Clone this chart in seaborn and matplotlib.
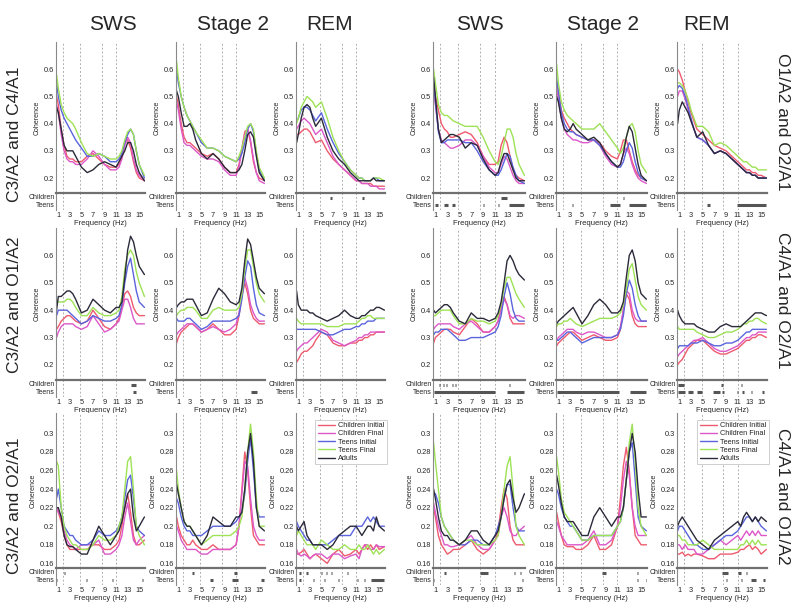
# Sleep EEG coherence by stage - children, teens and adults (3 x 6 panel figure)

import pandas as pd
import matplotlib
matplotlib.use('Agg')
import matplotlib.pyplot as plt
from matplotlib.lines import Line2D
import seaborn as sns

sns.set_style('white')
plt.rcParams['font.family'] = ['Liberation Sans', 'DejaVu Sans']

# Frequency grid (Hz) shared by every curve
freq = [0.7, 1, 1.5, 2, 2.5, 3, 3.5, 4, 5, 6, 7, 8, 9, 10, 11, 11.5, 12, 12.5, 13, 13.5, 14, 14.5, 15, 15.9]

groups = ['Children Initial', 'Children Final', 'Teens Initial', 'Teens Final', 'Adults']
colors = ['#ee5a6e', '#dc58c8', '#5a64dc', '#9ee255', '#2a2a3a']

stages = ['SWS', 'Stage 2', 'REM']
left_pairs = ['C3/A2 and C4/A1', 'C3/A2 and O1/A2', 'C3/A2 and O2/A1']
right_pairs = ['O1/A2 and O2/A1', 'C4/A1 and O2/A1', 'C4/A1 and O1/A2']

# Coherence curves, one row per group (order as in groups)
c3c4_sws = [
    [0.50, 0.47, 0.38, 0.32, 0.28, 0.27, 0.27, 0.26, 0.26, 0.28, 0.29, 0.27, 0.25, 0.24, 0.24, 0.25, 0.28, 0.33, 0.34, 0.31, 0.26, 0.22, 0.20, 0.19],
    [0.47, 0.44, 0.36, 0.30, 0.27, 0.26, 0.26, 0.25, 0.25, 0.27, 0.30, 0.28, 0.25, 0.23, 0.23, 0.24, 0.27, 0.32, 0.35, 0.33, 0.27, 0.23, 0.21, 0.19],
    [0.55, 0.50, 0.45, 0.42, 0.40, 0.38, 0.36, 0.34, 0.31, 0.28, 0.28, 0.29, 0.28, 0.26, 0.26, 0.27, 0.29, 0.33, 0.36, 0.38, 0.36, 0.30, 0.25, 0.20],
    [0.58, 0.53, 0.47, 0.44, 0.42, 0.41, 0.40, 0.38, 0.33, 0.29, 0.28, 0.29, 0.28, 0.27, 0.27, 0.28, 0.30, 0.34, 0.37, 0.38, 0.36, 0.30, 0.25, 0.21],
    [0.46, 0.44, 0.38, 0.32, 0.30, 0.30, 0.30, 0.28, 0.24, 0.22, 0.23, 0.25, 0.26, 0.25, 0.24, 0.26, 0.28, 0.30, 0.33, 0.33, 0.30, 0.25, 0.22, 0.19],
]
c3c4_st2 = [
    [0.50, 0.47, 0.40, 0.35, 0.33, 0.33, 0.32, 0.31, 0.29, 0.28, 0.29, 0.27, 0.24, 0.22, 0.22, 0.25, 0.31, 0.37, 0.38, 0.33, 0.26, 0.22, 0.20, 0.19],
    [0.48, 0.45, 0.38, 0.33, 0.32, 0.32, 0.31, 0.30, 0.28, 0.27, 0.27, 0.26, 0.23, 0.21, 0.21, 0.24, 0.30, 0.36, 0.38, 0.34, 0.27, 0.22, 0.19, 0.18],
    [0.60, 0.55, 0.50, 0.46, 0.43, 0.41, 0.39, 0.37, 0.33, 0.31, 0.31, 0.30, 0.28, 0.27, 0.26, 0.27, 0.29, 0.33, 0.38, 0.40, 0.37, 0.29, 0.23, 0.19],
    [0.63, 0.57, 0.50, 0.46, 0.43, 0.41, 0.39, 0.37, 0.34, 0.31, 0.31, 0.30, 0.28, 0.27, 0.26, 0.28, 0.31, 0.35, 0.39, 0.40, 0.38, 0.30, 0.24, 0.20],
    [0.52, 0.50, 0.44, 0.39, 0.39, 0.40, 0.38, 0.34, 0.29, 0.27, 0.29, 0.27, 0.24, 0.22, 0.22, 0.23, 0.25, 0.30, 0.36, 0.37, 0.35, 0.28, 0.22, 0.19],
]
c3c4_rem = [
    [0.36, 0.36, 0.37, 0.38, 0.38, 0.37, 0.35, 0.33, 0.34, 0.30, 0.27, 0.25, 0.23, 0.21, 0.19, 0.19, 0.18, 0.18, 0.18, 0.18, 0.17, 0.17, 0.17, 0.17],
    [0.38, 0.39, 0.41, 0.42, 0.41, 0.40, 0.38, 0.36, 0.38, 0.33, 0.28, 0.25, 0.23, 0.21, 0.19, 0.19, 0.18, 0.18, 0.18, 0.17, 0.17, 0.17, 0.16, 0.16],
    [0.41, 0.42, 0.45, 0.46, 0.46, 0.45, 0.43, 0.41, 0.44, 0.38, 0.33, 0.29, 0.26, 0.23, 0.21, 0.20, 0.20, 0.19, 0.19, 0.19, 0.20, 0.20, 0.19, 0.19],
    [0.40, 0.42, 0.46, 0.48, 0.50, 0.49, 0.48, 0.46, 0.48, 0.42, 0.35, 0.30, 0.26, 0.23, 0.21, 0.20, 0.20, 0.19, 0.19, 0.19, 0.20, 0.20, 0.20, 0.19],
    [0.33, 0.36, 0.42, 0.46, 0.47, 0.46, 0.42, 0.39, 0.42, 0.35, 0.30, 0.27, 0.25, 0.22, 0.20, 0.19, 0.19, 0.19, 0.19, 0.19, 0.20, 0.19, 0.19, 0.19],
]
o1o2_sws = [
    [0.55, 0.50, 0.45, 0.40, 0.38, 0.37, 0.35, 0.35, 0.36, 0.37, 0.36, 0.33, 0.28, 0.25, 0.25, 0.26, 0.32, 0.35, 0.33, 0.28, 0.23, 0.21, 0.20, 0.19],
    [0.52, 0.47, 0.38, 0.34, 0.33, 0.32, 0.31, 0.31, 0.32, 0.34, 0.34, 0.32, 0.28, 0.24, 0.22, 0.22, 0.25, 0.28, 0.27, 0.24, 0.21, 0.19, 0.18, 0.18],
    [0.55, 0.48, 0.37, 0.33, 0.33, 0.34, 0.34, 0.34, 0.34, 0.33, 0.33, 0.30, 0.26, 0.23, 0.21, 0.21, 0.23, 0.26, 0.29, 0.28, 0.24, 0.21, 0.19, 0.18],
    [0.60, 0.55, 0.47, 0.44, 0.43, 0.43, 0.42, 0.41, 0.40, 0.39, 0.39, 0.39, 0.35, 0.30, 0.26, 0.25, 0.28, 0.33, 0.38, 0.38, 0.35, 0.29, 0.25, 0.21],
    [0.57, 0.50, 0.38, 0.33, 0.34, 0.35, 0.36, 0.36, 0.35, 0.31, 0.33, 0.32, 0.27, 0.23, 0.21, 0.22, 0.26, 0.29, 0.29, 0.26, 0.23, 0.20, 0.19, 0.19],
]
o1o2_st2 = [
    [0.55, 0.52, 0.45, 0.42, 0.40, 0.38, 0.37, 0.36, 0.35, 0.34, 0.34, 0.33, 0.30, 0.28, 0.27, 0.30, 0.34, 0.34, 0.30, 0.26, 0.23, 0.21, 0.20, 0.19],
    [0.53, 0.49, 0.42, 0.38, 0.36, 0.35, 0.34, 0.34, 0.33, 0.33, 0.34, 0.32, 0.28, 0.25, 0.24, 0.25, 0.29, 0.31, 0.29, 0.25, 0.22, 0.20, 0.19, 0.18],
    [0.57, 0.52, 0.44, 0.40, 0.38, 0.37, 0.37, 0.36, 0.35, 0.34, 0.34, 0.32, 0.29, 0.26, 0.24, 0.24, 0.26, 0.30, 0.33, 0.31, 0.26, 0.22, 0.20, 0.19],
    [0.62, 0.55, 0.48, 0.45, 0.43, 0.42, 0.41, 0.40, 0.38, 0.38, 0.38, 0.40, 0.37, 0.34, 0.31, 0.29, 0.31, 0.35, 0.39, 0.40, 0.37, 0.30, 0.25, 0.22],
    [0.50, 0.48, 0.42, 0.38, 0.37, 0.38, 0.40, 0.38, 0.36, 0.34, 0.35, 0.33, 0.29, 0.26, 0.24, 0.25, 0.29, 0.35, 0.39, 0.37, 0.31, 0.25, 0.21, 0.19],
]
o1o2_rem = [
    [0.60, 0.59, 0.56, 0.52, 0.48, 0.44, 0.41, 0.38, 0.36, 0.34, 0.32, 0.31, 0.30, 0.28, 0.26, 0.25, 0.24, 0.23, 0.23, 0.22, 0.22, 0.21, 0.21, 0.20],
    [0.50, 0.52, 0.52, 0.49, 0.45, 0.41, 0.38, 0.35, 0.34, 0.32, 0.29, 0.30, 0.29, 0.27, 0.25, 0.24, 0.23, 0.22, 0.22, 0.21, 0.21, 0.20, 0.20, 0.20],
    [0.53, 0.54, 0.53, 0.50, 0.46, 0.42, 0.38, 0.35, 0.34, 0.32, 0.29, 0.30, 0.29, 0.27, 0.25, 0.24, 0.23, 0.22, 0.22, 0.21, 0.21, 0.20, 0.20, 0.20],
    [0.55, 0.55, 0.54, 0.52, 0.49, 0.45, 0.42, 0.39, 0.39, 0.37, 0.32, 0.33, 0.32, 0.30, 0.28, 0.27, 0.26, 0.26, 0.25, 0.24, 0.24, 0.23, 0.23, 0.23],
    [0.40, 0.45, 0.48, 0.46, 0.44, 0.41, 0.38, 0.35, 0.37, 0.32, 0.29, 0.30, 0.29, 0.27, 0.25, 0.24, 0.23, 0.22, 0.22, 0.21, 0.21, 0.20, 0.20, 0.20],
]
c3o1_sws = [
    [0.33, 0.34, 0.36, 0.37, 0.38, 0.38, 0.37, 0.36, 0.35, 0.36, 0.40, 0.37, 0.34, 0.33, 0.35, 0.37, 0.41, 0.46, 0.47, 0.45, 0.41, 0.39, 0.38, 0.38],
    [0.30, 0.32, 0.34, 0.35, 0.35, 0.35, 0.35, 0.34, 0.33, 0.34, 0.38, 0.35, 0.32, 0.33, 0.35, 0.36, 0.40, 0.44, 0.44, 0.41, 0.37, 0.35, 0.35, 0.35],
    [0.38, 0.40, 0.40, 0.40, 0.40, 0.39, 0.38, 0.37, 0.35, 0.36, 0.38, 0.37, 0.36, 0.36, 0.37, 0.38, 0.42, 0.50, 0.56, 0.59, 0.53, 0.47, 0.43, 0.41],
    [0.44, 0.43, 0.43, 0.43, 0.44, 0.44, 0.43, 0.41, 0.38, 0.38, 0.41, 0.39, 0.38, 0.38, 0.39, 0.40, 0.45, 0.55, 0.60, 0.62, 0.60, 0.54, 0.50, 0.45],
    [0.40, 0.45, 0.45, 0.46, 0.47, 0.47, 0.46, 0.44, 0.39, 0.40, 0.44, 0.42, 0.40, 0.39, 0.41, 0.41, 0.43, 0.52, 0.62, 0.67, 0.65, 0.60, 0.56, 0.53],
]
c3o1_st2 = [
    [0.28, 0.30, 0.32, 0.33, 0.34, 0.35, 0.35, 0.34, 0.32, 0.33, 0.35, 0.33, 0.31, 0.31, 0.33, 0.38, 0.45, 0.50, 0.46, 0.40, 0.37, 0.36, 0.35, 0.35],
    [0.31, 0.32, 0.33, 0.34, 0.35, 0.35, 0.35, 0.34, 0.32, 0.33, 0.34, 0.33, 0.32, 0.33, 0.35, 0.39, 0.46, 0.52, 0.48, 0.42, 0.39, 0.37, 0.36, 0.36],
    [0.37, 0.36, 0.36, 0.36, 0.37, 0.37, 0.36, 0.35, 0.33, 0.34, 0.36, 0.36, 0.36, 0.36, 0.37, 0.38, 0.44, 0.52, 0.58, 0.56, 0.48, 0.42, 0.39, 0.38],
    [0.38, 0.39, 0.40, 0.40, 0.41, 0.41, 0.41, 0.40, 0.37, 0.37, 0.40, 0.41, 0.40, 0.40, 0.40, 0.41, 0.46, 0.55, 0.62, 0.62, 0.56, 0.50, 0.46, 0.43],
    [0.41, 0.42, 0.43, 0.43, 0.44, 0.44, 0.44, 0.42, 0.38, 0.39, 0.44, 0.48, 0.46, 0.43, 0.42, 0.43, 0.48, 0.58, 0.66, 0.64, 0.58, 0.52, 0.48, 0.46],
]
c3o1_rem = [
    [0.21, 0.22, 0.24, 0.25, 0.25, 0.26, 0.27, 0.29, 0.32, 0.31, 0.28, 0.27, 0.27, 0.28, 0.28, 0.29, 0.29, 0.30, 0.30, 0.31, 0.31, 0.32, 0.32, 0.32],
    [0.25, 0.26, 0.27, 0.28, 0.28, 0.29, 0.30, 0.31, 0.33, 0.32, 0.29, 0.28, 0.27, 0.28, 0.29, 0.30, 0.30, 0.31, 0.31, 0.32, 0.32, 0.32, 0.32, 0.32],
    [0.33, 0.33, 0.33, 0.33, 0.33, 0.33, 0.33, 0.33, 0.32, 0.31, 0.31, 0.32, 0.33, 0.33, 0.34, 0.34, 0.35, 0.35, 0.36, 0.36, 0.36, 0.37, 0.37, 0.37],
    [0.37, 0.36, 0.35, 0.35, 0.35, 0.35, 0.35, 0.35, 0.35, 0.34, 0.34, 0.34, 0.35, 0.35, 0.35, 0.36, 0.37, 0.37, 0.38, 0.38, 0.37, 0.37, 0.37, 0.37],
    [0.47, 0.42, 0.40, 0.40, 0.40, 0.39, 0.39, 0.38, 0.37, 0.36, 0.37, 0.38, 0.40, 0.38, 0.37, 0.37, 0.38, 0.38, 0.39, 0.40, 0.40, 0.41, 0.41, 0.40],
]
c4o2_sws = [
    [0.28, 0.30, 0.31, 0.32, 0.33, 0.33, 0.33, 0.32, 0.31, 0.34, 0.37, 0.35, 0.32, 0.32, 0.34, 0.36, 0.41, 0.45, 0.42, 0.37, 0.35, 0.35, 0.35, 0.35],
    [0.33, 0.34, 0.35, 0.35, 0.35, 0.35, 0.35, 0.34, 0.33, 0.35, 0.36, 0.34, 0.32, 0.32, 0.34, 0.36, 0.40, 0.44, 0.42, 0.38, 0.37, 0.38, 0.38, 0.37],
    [0.31, 0.32, 0.32, 0.33, 0.33, 0.33, 0.32, 0.31, 0.29, 0.29, 0.30, 0.30, 0.30, 0.31, 0.32, 0.34, 0.38, 0.45, 0.50, 0.46, 0.40, 0.37, 0.36, 0.36],
    [0.38, 0.38, 0.39, 0.40, 0.40, 0.40, 0.40, 0.38, 0.35, 0.35, 0.37, 0.36, 0.36, 0.35, 0.36, 0.38, 0.42, 0.48, 0.52, 0.52, 0.49, 0.46, 0.44, 0.41],
    [0.40, 0.39, 0.40, 0.41, 0.42, 0.42, 0.41, 0.39, 0.36, 0.35, 0.39, 0.37, 0.37, 0.36, 0.37, 0.39, 0.43, 0.50, 0.58, 0.60, 0.58, 0.55, 0.53, 0.51],
]
c4o2_st2 = [
    [0.27, 0.28, 0.29, 0.30, 0.31, 0.32, 0.32, 0.31, 0.29, 0.30, 0.31, 0.30, 0.29, 0.29, 0.30, 0.33, 0.40, 0.46, 0.44, 0.38, 0.35, 0.34, 0.34, 0.34],
    [0.29, 0.30, 0.31, 0.32, 0.33, 0.33, 0.33, 0.32, 0.31, 0.32, 0.32, 0.31, 0.30, 0.30, 0.31, 0.34, 0.40, 0.47, 0.46, 0.40, 0.37, 0.36, 0.36, 0.36],
    [0.29, 0.29, 0.30, 0.31, 0.32, 0.32, 0.31, 0.30, 0.28, 0.29, 0.30, 0.30, 0.30, 0.30, 0.31, 0.33, 0.38, 0.46, 0.51, 0.48, 0.42, 0.38, 0.36, 0.36],
    [0.34, 0.35, 0.35, 0.36, 0.36, 0.37, 0.36, 0.35, 0.34, 0.35, 0.36, 0.37, 0.37, 0.37, 0.38, 0.39, 0.42, 0.48, 0.55, 0.57, 0.51, 0.45, 0.42, 0.40],
    [0.35, 0.36, 0.37, 0.38, 0.39, 0.40, 0.41, 0.39, 0.35, 0.38, 0.42, 0.44, 0.42, 0.39, 0.39, 0.40, 0.43, 0.52, 0.60, 0.62, 0.58, 0.50, 0.46, 0.44],
]
c4o2_rem = [
    [0.20, 0.21, 0.22, 0.24, 0.26, 0.27, 0.28, 0.29, 0.29, 0.27, 0.25, 0.24, 0.24, 0.25, 0.26, 0.27, 0.28, 0.29, 0.29, 0.30, 0.30, 0.31, 0.31, 0.30],
    [0.23, 0.24, 0.25, 0.26, 0.27, 0.28, 0.29, 0.29, 0.30, 0.28, 0.26, 0.25, 0.25, 0.26, 0.27, 0.28, 0.29, 0.30, 0.30, 0.31, 0.31, 0.32, 0.32, 0.32],
    [0.26, 0.27, 0.27, 0.27, 0.27, 0.28, 0.28, 0.28, 0.29, 0.28, 0.27, 0.27, 0.28, 0.28, 0.29, 0.30, 0.31, 0.32, 0.32, 0.33, 0.33, 0.33, 0.33, 0.33],
    [0.34, 0.33, 0.33, 0.33, 0.33, 0.33, 0.33, 0.32, 0.31, 0.30, 0.30, 0.31, 0.32, 0.32, 0.33, 0.34, 0.35, 0.35, 0.36, 0.36, 0.37, 0.37, 0.36, 0.35],
    [0.40, 0.38, 0.36, 0.35, 0.35, 0.35, 0.35, 0.34, 0.33, 0.32, 0.32, 0.34, 0.35, 0.34, 0.34, 0.34, 0.35, 0.36, 0.37, 0.38, 0.39, 0.39, 0.39, 0.38],
]
c3o2_sws = [
    [0.220, 0.215, 0.205, 0.190, 0.180, 0.175, 0.175, 0.175, 0.175, 0.175, 0.180, 0.180, 0.175, 0.175, 0.180, 0.185, 0.200, 0.220, 0.235, 0.215, 0.190, 0.180, 0.180, 0.185],
    [0.220, 0.215, 0.210, 0.195, 0.185, 0.180, 0.178, 0.175, 0.180, 0.180, 0.180, 0.185, 0.170, 0.170, 0.175, 0.180, 0.190, 0.210, 0.225, 0.205, 0.185, 0.180, 0.185, 0.190],
    [0.230, 0.240, 0.220, 0.200, 0.195, 0.190, 0.190, 0.185, 0.180, 0.180, 0.185, 0.195, 0.190, 0.190, 0.195, 0.200, 0.210, 0.230, 0.250, 0.255, 0.230, 0.200, 0.195, 0.190],
    [0.270, 0.265, 0.220, 0.200, 0.190, 0.185, 0.180, 0.180, 0.175, 0.175, 0.180, 0.190, 0.185, 0.185, 0.190, 0.200, 0.210, 0.240, 0.270, 0.275, 0.240, 0.200, 0.190, 0.180],
    [0.220, 0.220, 0.210, 0.190, 0.180, 0.178, 0.178, 0.175, 0.170, 0.170, 0.185, 0.200, 0.190, 0.180, 0.190, 0.195, 0.205, 0.220, 0.235, 0.240, 0.210, 0.195, 0.200, 0.210],
]
c3o2_st2 = [
    [0.210, 0.200, 0.190, 0.185, 0.180, 0.180, 0.185, 0.180, 0.175, 0.175, 0.180, 0.175, 0.175, 0.175, 0.180, 0.200, 0.240, 0.280, 0.260, 0.220, 0.190, 0.185, 0.180, 0.180],
    [0.200, 0.195, 0.185, 0.180, 0.175, 0.175, 0.175, 0.175, 0.170, 0.170, 0.175, 0.175, 0.175, 0.175, 0.180, 0.200, 0.235, 0.270, 0.265, 0.230, 0.200, 0.190, 0.185, 0.185],
    [0.230, 0.225, 0.210, 0.200, 0.195, 0.195, 0.190, 0.190, 0.190, 0.195, 0.200, 0.200, 0.200, 0.200, 0.205, 0.210, 0.215, 0.235, 0.270, 0.295, 0.260, 0.220, 0.210, 0.210],
    [0.260, 0.240, 0.220, 0.205, 0.200, 0.200, 0.195, 0.190, 0.180, 0.185, 0.190, 0.190, 0.190, 0.190, 0.195, 0.200, 0.210, 0.240, 0.280, 0.310, 0.280, 0.230, 0.200, 0.200],
    [0.245, 0.235, 0.220, 0.205, 0.200, 0.200, 0.195, 0.190, 0.180, 0.190, 0.210, 0.205, 0.200, 0.200, 0.210, 0.210, 0.215, 0.240, 0.280, 0.300, 0.270, 0.220, 0.200, 0.195],
]
c3o2_rem = [
    [0.170, 0.170, 0.172, 0.175, 0.170, 0.165, 0.168, 0.170, 0.165, 0.160, 0.170, 0.175, 0.168, 0.170, 0.175, 0.170, 0.175, 0.180, 0.175, 0.180, 0.175, 0.180, 0.175, 0.178],
    [0.175, 0.170, 0.168, 0.170, 0.168, 0.165, 0.168, 0.170, 0.170, 0.165, 0.170, 0.170, 0.165, 0.168, 0.170, 0.165, 0.175, 0.180, 0.180, 0.175, 0.175, 0.180, 0.178, 0.178],
    [0.205, 0.200, 0.195, 0.190, 0.185, 0.185, 0.180, 0.180, 0.180, 0.180, 0.185, 0.190, 0.190, 0.190, 0.200, 0.200, 0.200, 0.205, 0.210, 0.205, 0.210, 0.205, 0.200, 0.200],
    [0.190, 0.195, 0.190, 0.185, 0.180, 0.180, 0.180, 0.175, 0.185, 0.180, 0.175, 0.175, 0.180, 0.175, 0.175, 0.180, 0.175, 0.175, 0.180, 0.175, 0.170, 0.175, 0.170, 0.175],
    [0.200, 0.195, 0.200, 0.205, 0.190, 0.185, 0.180, 0.180, 0.180, 0.175, 0.180, 0.190, 0.195, 0.200, 0.200, 0.195, 0.190, 0.195, 0.200, 0.200, 0.195, 0.210, 0.200, 0.195],
]
c4o1_sws = [
    [0.220, 0.210, 0.190, 0.180, 0.175, 0.170, 0.172, 0.175, 0.175, 0.180, 0.185, 0.175, 0.170, 0.175, 0.185, 0.195, 0.220, 0.240, 0.230, 0.200, 0.185, 0.180, 0.180, 0.180],
    [0.225, 0.215, 0.200, 0.190, 0.180, 0.180, 0.178, 0.178, 0.180, 0.185, 0.190, 0.180, 0.175, 0.175, 0.185, 0.190, 0.210, 0.220, 0.210, 0.195, 0.190, 0.190, 0.195, 0.200],
    [0.235, 0.235, 0.225, 0.210, 0.200, 0.195, 0.190, 0.185, 0.180, 0.180, 0.185, 0.185, 0.180, 0.180, 0.190, 0.200, 0.210, 0.230, 0.245, 0.245, 0.220, 0.200, 0.195, 0.195],
    [0.290, 0.270, 0.240, 0.210, 0.200, 0.195, 0.190, 0.185, 0.180, 0.185, 0.185, 0.180, 0.180, 0.180, 0.185, 0.190, 0.210, 0.240, 0.265, 0.275, 0.240, 0.200, 0.190, 0.180],
    [0.240, 0.230, 0.210, 0.195, 0.190, 0.190, 0.185, 0.185, 0.180, 0.185, 0.195, 0.195, 0.185, 0.180, 0.190, 0.195, 0.210, 0.230, 0.245, 0.250, 0.230, 0.215, 0.220, 0.235],
]
c4o1_st2 = [
    [0.215, 0.205, 0.190, 0.180, 0.178, 0.178, 0.178, 0.175, 0.175, 0.180, 0.190, 0.175, 0.175, 0.180, 0.200, 0.230, 0.265, 0.285, 0.260, 0.220, 0.190, 0.185, 0.180, 0.180],
    [0.205, 0.200, 0.190, 0.185, 0.180, 0.180, 0.180, 0.180, 0.180, 0.185, 0.195, 0.180, 0.180, 0.185, 0.200, 0.220, 0.250, 0.270, 0.255, 0.220, 0.200, 0.190, 0.190, 0.190],
    [0.240, 0.235, 0.220, 0.210, 0.205, 0.200, 0.200, 0.195, 0.185, 0.185, 0.190, 0.190, 0.190, 0.190, 0.200, 0.205, 0.220, 0.250, 0.280, 0.290, 0.250, 0.210, 0.200, 0.195],
    [0.275, 0.260, 0.230, 0.215, 0.210, 0.205, 0.200, 0.195, 0.185, 0.185, 0.190, 0.190, 0.190, 0.190, 0.200, 0.205, 0.220, 0.250, 0.290, 0.310, 0.270, 0.220, 0.200, 0.190],
    [0.255, 0.245, 0.225, 0.210, 0.205, 0.205, 0.205, 0.200, 0.190, 0.190, 0.210, 0.220, 0.210, 0.200, 0.210, 0.210, 0.220, 0.250, 0.280, 0.300, 0.280, 0.240, 0.210, 0.210],
]
c4o1_rem = [
    [0.170, 0.170, 0.172, 0.168, 0.170, 0.168, 0.170, 0.170, 0.168, 0.165, 0.165, 0.170, 0.170, 0.170, 0.172, 0.175, 0.175, 0.178, 0.180, 0.175, 0.178, 0.175, 0.170, 0.175],
    [0.180, 0.180, 0.175, 0.180, 0.175, 0.175, 0.175, 0.170, 0.170, 0.175, 0.180, 0.185, 0.180, 0.185, 0.190, 0.185, 0.190, 0.195, 0.190, 0.195, 0.190, 0.195, 0.190, 0.190],
    [0.195, 0.200, 0.200, 0.195, 0.190, 0.185, 0.180, 0.180, 0.175, 0.175, 0.180, 0.185, 0.190, 0.190, 0.195, 0.200, 0.205, 0.210, 0.210, 0.205, 0.210, 0.205, 0.200, 0.195],
    [0.190, 0.190, 0.185, 0.185, 0.180, 0.180, 0.180, 0.180, 0.185, 0.180, 0.175, 0.175, 0.175, 0.175, 0.175, 0.180, 0.180, 0.185, 0.180, 0.185, 0.180, 0.185, 0.180, 0.180],
    [0.200, 0.205, 0.210, 0.205, 0.200, 0.195, 0.190, 0.185, 0.180, 0.175, 0.185, 0.190, 0.195, 0.200, 0.205, 0.200, 0.210, 0.215, 0.210, 0.205, 0.210, 0.205, 0.210, 0.205],
]

# Significant frequency ranges (Hz): (children, teens)
c3c4_sws_sig = ([], [])
c3c4_st2_sig = ([], [])
c3c4_rem_sig = ([(6.5, 6.8), (12.0, 12.4)], [])
o1o2_sws_sig = ([(11.9, 13.0)], [(0.9, 1.5), (2.5, 3.1), (3.8, 4.3), (9.0, 9.2), (11.5, 11.7), (13.3, 15.8)])
o1o2_st2_sig = ([(11.9, 12.1)], [(3.3, 3.5), (9.8, 11.4), (13.0, 15.8)])
o1o2_rem_sig = ([], [(5.7, 6.3), (10.8, 15.9)])
c3o1_sws_sig = ([(13.6, 14.4)], [(13.9, 14.5)])
c3o1_st2_sig = ([], [(13.6, 14.7)])
c3o1_rem_sig = ([], [])
c4o2_sws_sig = ([(1.6, 1.8), (2.2, 2.4), (2.7, 2.9), (3.8, 4.0), (4.3, 4.5), (13.3, 13.5)], [(0.7, 11.0), (13.0, 15.8)])
c4o2_st2_sig = ([], [(0.7, 11.3), (13.2, 15.8)])
c4o2_rem_sig = ([(0.7, 1.8), (8.2, 8.4), (11.5, 11.7)],
                [(0.7, 2.0), (2.5, 3.3), (4.0, 4.8), (6.7, 8.0), (8.3, 8.7), (10.8, 11.1), (11.8, 12.1), (13.2, 13.5), (15.1, 15.5)])
c3o2_sws_sig = ([(2.0, 2.2)], [(0.6, 0.8), (5.8, 6.0), (10.3, 10.5), (15.5, 15.7)])
c3o2_st2_sig = ([(3.3, 3.8), (10.6, 11.2)], [(6.4, 7.0), (10.3, 11.4), (15.3, 15.9)])
c3o2_rem_sig = ([(1.2, 1.4), (2.4, 2.6), (4.9, 5.1), (5.8, 6.0), (6.6, 6.8), (9.4, 9.6)],
                [(1.2, 1.4), (3.5, 3.7), (5.5, 5.7), (7.9, 8.1), (11.1, 11.3), (12.3, 12.5), (13.5, 15.9)])
c4o1_sws_sig = ([(2.5, 2.7), (8.4, 9.8), (14.1, 14.3), (15.2, 15.4)], [(0.6, 0.8), (15.5, 15.7)])
c4o1_st2_sig = ([(8.3, 9.1), (14.3, 14.5)], [(14.3, 14.5), (15.8, 16.0)])
c4o1_rem_sig = ([(8.3, 9.4), (11.0, 11.6), (12.4, 12.6)], [(9.0, 9.2), (11.5, 11.7), (13.3, 14.1), (15.4, 15.6)])

band_edges = [1.8, 4.8, 8.5, 11.0]
freq_ticks = [1, 3, 5, 7, 9, 11, 13, 15]

rows = [
    [(c3c4_sws, c3c4_sws_sig), (c3c4_st2, c3c4_st2_sig), (c3c4_rem, c3c4_rem_sig),
     (o1o2_sws, o1o2_sws_sig), (o1o2_st2, o1o2_st2_sig), (o1o2_rem, o1o2_rem_sig)],
    [(c3o1_sws, c3o1_sws_sig), (c3o1_st2, c3o1_st2_sig), (c3o1_rem, c3o1_rem_sig),
     (c4o2_sws, c4o2_sws_sig), (c4o2_st2, c4o2_st2_sig), (c4o2_rem, c4o2_rem_sig)],
    [(c3o2_sws, c3o2_sws_sig), (c3o2_st2, c3o2_st2_sig), (c3o2_rem, c3o2_rem_sig),
     (c4o1_sws, c4o1_sws_sig), (c4o1_st2, c4o1_st2_sig), (c4o1_rem, c4o1_rem_sig)],
]

# Layout in pixels
W, H = 800, 612
col_x = [(56, 145), (176, 265), (296, 385), (433, 525), (556, 647), (677, 767)]
row_y = [(42, 193), (228, 380), (413, 568)]
strip_h = 17
row_ylim = [(0.145, 0.70), (0.145, 0.70), (0.155, 0.322)]
row_yticks = [[0.2, 0.3, 0.4, 0.5, 0.6], [0.2, 0.3, 0.4, 0.5, 0.6],
              [0.16, 0.18, 0.2, 0.22, 0.24, 0.26, 0.28, 0.3]]


def box(x0, x1, y0, y1):
    return [x0 / W, 1 - y1 / H, (x1 - x0) / W, (y1 - y0) / H]


fig = plt.figure(figsize=(8, 6.12), dpi=100)
spine_col = '#8a8a8a'

for r, row in enumerate(rows):
    y0, y1 = row_y[r]
    for c, (curves, sig) in enumerate(row):
        x0, x1 = col_x[c]
        ax = fig.add_axes(box(x0, x1, y0, y1))
        sa = fig.add_axes(box(x0, x1, y1, y1 + strip_h))

        # Coherence curves
        df = pd.DataFrame({
            'freq': freq * len(groups),
            'coh': [v for vals in curves for v in vals],
            'group': [g for g in groups for _ in freq],
        })
        sns.lineplot(data=df, x='freq', y='coh', hue='group', hue_order=groups,
                     palette=dict(zip(groups, colors)), estimator=None, sort=False,
                     lw=1.0, legend=False, ax=ax)

        for a in (ax, sa):
            a.set_xlim(0.6, 16)
            for b in band_edges:
                a.axvline(b, color='#b0b0b0', lw=0.7, ls=(0, (2, 2)), zorder=0)
            a.spines['right'].set_visible(False)
            a.spines['bottom'].set_visible(False)
            a.spines['left'].set_color(spine_col)
            a.spines['left'].set_linewidth(0.8)
            a.tick_params(labelsize=5.3, length=2, direction='in', color=spine_col, pad=1.5)

        ax.spines['top'].set_visible(False)
        ax.set_ylim(row_ylim[r])
        ax.set_yticks(row_yticks[r])
        ax.set_yticklabels([f'{t:g}' for t in row_yticks[r]])
        ax.set_xticks([])
        ax.set_xlabel('')
        ax.set_ylabel('Coherence', fontsize=5, labelpad=2)

        # Significance strip
        sa.set_ylim(0, 1)
        sa.set_yticks([])
        sa.spines['top'].set_color('#707070')
        sa.spines['top'].set_linewidth(1.6)
        sa.set_xticks(freq_ticks)
        sa.set_xlabel('Frequency (Hz)', fontsize=5.5, labelpad=0.5)
        sa.text(-0.015, 0.72, 'Children', transform=sa.transAxes, ha='right', va='center', fontsize=5)
        sa.text(-0.015, 0.27, 'Teens', transform=sa.transAxes, ha='right', va='center', fontsize=5)
        for ypos, spans in zip([0.72, 0.27], sig):
            for s0, s1 in spans:
                sa.hlines(ypos, s0, s1, color='#555555', lw=2.2)

        if r == 2 and c in (2, 5):
            handles = [Line2D([0], [0], color=col, lw=1.0) for col in colors]
            leg = ax.legend(handles, groups, loc='upper right', bbox_to_anchor=(1.06, 0.98),
                            fontsize=5.3, handlelength=2.4, labelspacing=0.15, borderpad=0.3,
                            handletextpad=0.4, fancybox=False, framealpha=1)
            leg.get_frame().set_edgecolor('#c8c8c8')
            leg.get_frame().set_linewidth(0.6)

# Column titles
title_x = [113, 233, 330, 480, 603, 707]
for i, tx in enumerate(title_x):
    fig.text(tx / W, 1 - 25 / H, stages[i % 3], fontsize=15, ha='center', va='center')

# Electrode pair labels
left_y = [134, 305, 506]
right_y = [122, 300, 496]
for i in range(3):
    fig.text(15 / W, 1 - left_y[i] / H, left_pairs[i], rotation=90, fontsize=12.5, ha='center', va='center')
    fig.text(783 / W, 1 - right_y[i] / H, right_pairs[i], rotation=270, fontsize=12.5, ha='center', va='center')

fig.savefig('out.png', dpi=100)
